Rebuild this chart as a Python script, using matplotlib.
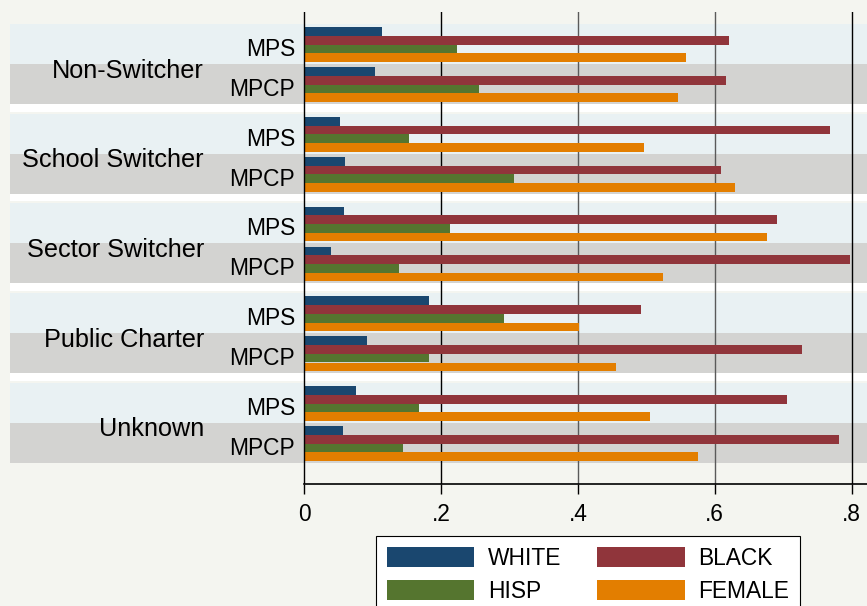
import matplotlib.pyplot as plt
import numpy as np

plt.rcParams['font.family'] = ['Liberation Sans', 'DejaVu Sans']

# data
groups = ['Non-Switcher', 'School Switcher', 'Sector Switcher', 'Public Charter', 'Unknown']
subgroups = ['MPS', 'MPCP']
white = [0.114, 0.103, 0.052, 0.059, 0.058, 0.039, 0.183, 0.092, 0.076, 0.056]
black = [0.621, 0.616, 0.769, 0.609, 0.691, 0.798, 0.492, 0.728, 0.706, 0.782]
hisp = [0.223, 0.255, 0.153, 0.306, 0.213, 0.139, 0.292, 0.183, 0.167, 0.145]
female = [0.558, 0.547, 0.497, 0.630, 0.677, 0.524, 0.401, 0.456, 0.506, 0.575]
series = [('WHITE', white, '#1a476f'), ('BLACK', black, '#90353b'),
          ('HISP', hisp, '#55752f'), ('FEMALE', female, '#e37e00')]
xticks = [0, 0.2, 0.4, 0.6, 0.8]
xticklabels = ['0', '.2', '.4', '.6', '.8']

# layout (pixels of an 867x606 figure)
W, H = 867, 606
bg = '#f4f5f0'
band_colors = ['#e9f1f3', '#d3d3d1']
x0_px, px_per_unit = 304.3, 684.0
left_px, top_px, bot_px = 10, 12, 484
band = 40.0                      # px per subgroup band
period = 89.7 / band             # group period in band units
first = (24 - top_px) / band

fig = plt.figure(figsize=(W / 100, H / 100), dpi=100, facecolor=bg)
ax = fig.add_axes([left_px / W, 1 - bot_px / H, 1 - left_px / W, (bot_px - top_px) / H])
ax.set_facecolor(bg)
xmin = (left_px - x0_px) / px_per_unit
xmax = (W - x0_px) / px_per_unit
ax.set_xlim(xmin, xmax)
ax.set_ylim((bot_px - top_px) / band, 0)

bar_h = 8.7 / band
bar_off = 3.3 / band
handles = {}
for g, gname in enumerate(groups):
    gtop = first + g * period
    for s, sname in enumerate(subgroups):
        top = gtop + s
        ax.axhspan(top, top + 1, color=band_colors[s], lw=0, zorder=0)
        k = g * 2 + s
        for i, (lab, vals, col) in enumerate(series):
            yc = top + bar_off + bar_h * (i + 0.5)
            b = ax.barh(yc, vals[k], height=bar_h, color=col, lw=0, zorder=3)
            handles[lab] = b
        ax.text((295 - x0_px) / px_per_unit, top + 0.5 + 12 / band, sname,
                ha='right', va='baseline', fontsize=16.4)
    ax.text((204 - x0_px) / px_per_unit, gtop + 1 + 13.5 / band, gname,
            ha='right', va='baseline', fontsize=18.2)
    if g < len(groups) - 1:
        gb = gtop + 2
        ax.axhspan(gb, gb + 7.7 / band, color='white', lw=0, zorder=0)

# grid / axis lines
for xv in xticks[1:]:
    c = 'black' if xv in (0.2, 0.8) else '#5a5a5a'
    ax.axvline(xv, color=c, lw=1.0, zorder=1)
ax.axvline(0, color='black', lw=1.0, zorder=4)
frac0 = (0 - xmin) / (xmax - xmin)
ax.axhline(ax.get_ylim()[0], xmin=frac0, xmax=1, color='black', lw=1.2, clip_on=False, zorder=4)

for sp in ax.spines.values():
    sp.set_visible(False)
ax.set_yticks([])
ax.set_xticks(xticks)
ax.set_xticklabels(xticklabels, fontsize=16.4)
ax.tick_params(axis='x', direction='out', length=7.2, width=1.0, color='black', pad=6.5)

order = ['WHITE', 'HISP', 'BLACK', 'FEMALE']
leg = fig.legend([handles[o] for o in order], order, ncol=2, loc='upper left',
                 bbox_to_anchor=(376 / W, 1 - 536 / H), bbox_transform=fig.transFigure,
                 fontsize=16.4, handlelength=3.84, handleheight=1.0, handletextpad=0.59,
                 columnspacing=1.58, labelspacing=0.42, borderpad=0.48, borderaxespad=0,
                 fancybox=False, framealpha=1, edgecolor='black', facecolor='white')
leg.get_frame().set_linewidth(0.8)

plt.savefig("out.png", dpi=100, facecolor=bg)
